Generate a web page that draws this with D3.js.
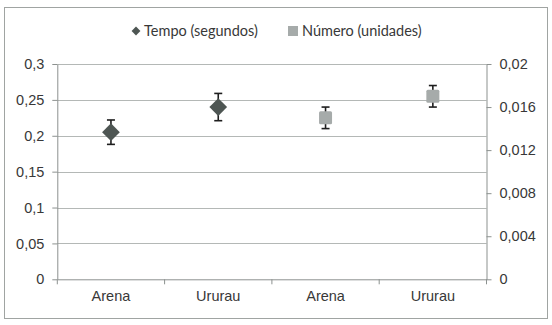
<!DOCTYPE html>
<html>
<head>
<meta charset="utf-8">
<script src="https://cdn.jsdelivr.net/npm/d3@7"></script>
<style>
  body { margin: 0; background: #fff; }
  svg { font-family: Lato, "Open Sans", sans-serif; }
</style>
</head>
<body>
<svg id="drawing_region"></svg>
<script>
const categories = ['Arena', 'Ururau', 'Arena', 'Ururau'];
const leftTicks = [0, 0.05, 0.1, 0.15, 0.2, 0.25, 0.3];
const rightTicks = [0, 0.004, 0.008, 0.012, 0.016, 0.02];

// Tempo (segundos) on the left axis, categories 0 and 1
const tempoIndex = [0, 1];
const tempoValues = [0.205, 0.240];
const tempoErrors = [0.017, 0.019];

// Número (unidades) on the right axis, categories 2 and 3
const numeroIndex = [2, 3];
const numeroValues = [0.0150, 0.0170];
const numeroErrors = [0.0010, 0.0010];

const width = 552, height = 325;
const margin = {top: 64, right: 65.5, bottom: 45.7, left: 57.3};
const innerW = width - margin.left - margin.right;
const innerH = height - margin.top - margin.bottom;
const fontSize = '14.5px';

const svg = d3.select('#drawing_region')
    .attr('width', width)
    .attr('height', height);

svg.append('rect')
    .attr('x', 4.5).attr('y', 7.5)
    .attr('width', 543).attr('height', 311)
    .attr('fill', '#fff')
    .attr('stroke', '#a0a4a2');

const chart = svg.append('g')
    .attr('transform', `translate(${margin.left}, ${margin.top})`);

const xscale = d3.scaleBand()
    .domain(d3.range(categories.length))
    .range([0, innerW]);

const yLeft = d3.scaleLinear().domain([0, 0.3]).range([innerH, 0]);
const yRight = d3.scaleLinear().domain([0, 0.02]).range([innerH, 0]);

const fmt = d => String(d).replace('.', ',');
const axisColor = '#8c918f';
const textColor = '#383838';

// gridlines
chart.append('g')
    .selectAll('line')
    .data(leftTicks.filter(d => d > 0))
    .join('line')
    .attr('x1', 0).attr('x2', innerW)
    .attr('y1', d => Math.round(yLeft(d)) + 0.5)
    .attr('y2', d => Math.round(yLeft(d)) + 0.5)
    .attr('stroke', '#b4b8b6');

const styleAxis = g => {
    g.select('.domain').attr('stroke', axisColor);
    g.selectAll('.tick line').attr('stroke', axisColor);
    g.selectAll('.tick text').attr('fill', textColor).attr('font-size', fontSize);
};

chart.append('g')
    .call(d3.axisLeft(yLeft).tickValues(leftTicks).tickFormat(fmt).tickSize(5).tickSizeOuter(0).tickPadding(8))
    .call(styleAxis);

chart.append('g')
    .attr('transform', `translate(${innerW}, 0)`)
    .call(d3.axisRight(yRight).tickValues(rightTicks).tickFormat(fmt).tickSize(5).tickSizeOuter(0).tickPadding(8))
    .call(styleAxis);

const xaxis = chart.append('g')
    .attr('transform', `translate(0, ${innerH})`)
    .call(d3.axisBottom(xscale).tickFormat(i => categories[i]).tickSize(0).tickPadding(11))
    .call(styleAxis);

// category boundary ticks
xaxis.selectAll('.sep')
    .data(d3.range(categories.length + 1))
    .join('line')
    .attr('class', 'sep')
    .attr('x1', i => i * xscale.bandwidth())
    .attr('x2', i => i * xscale.bandwidth())
    .attr('y1', 0).attr('y2', 5)
    .attr('stroke', axisColor);

const cx = i => xscale(i) + xscale.bandwidth() / 2;

function errorBars(idx, vals, errs, y) {
    const g = chart.append('g').attr('stroke', '#1e1e1e').attr('stroke-width', 1.6);
    idx.forEach((i, k) => {
        const x = cx(i);
        const t = y(vals[k] + errs[k]), b = y(vals[k] - errs[k]);
        g.append('line').attr('x1', x).attr('x2', x).attr('y1', t).attr('y2', b);
        g.append('line').attr('x1', x - 4).attr('x2', x + 4).attr('y1', t).attr('y2', t);
        g.append('line').attr('x1', x - 4).attr('x2', x + 4).attr('y1', b).attr('y2', b);
    });
}

errorBars(tempoIndex, tempoValues, tempoErrors, yLeft);
errorBars(numeroIndex, numeroValues, numeroErrors, yRight);

const diamondColor = '#4e5653';
const squareColor = '#a6abaa';

chart.selectAll('.tempo')
    .data(tempoIndex)
    .join('path')
    .attr('class', 'tempo')
    .attr('d', d3.symbol(d3.symbolDiamond2, 200))
    .attr('transform', (d, k) => `translate(${cx(d)}, ${yLeft(tempoValues[k])})`)
    .attr('fill', diamondColor);

chart.selectAll('.numero')
    .data(numeroIndex)
    .join('rect')
    .attr('class', 'numero')
    .attr('x', d => cx(d) - 6.5)
    .attr('y', (d, k) => yRight(numeroValues[k]) - 6.5)
    .attr('width', 13).attr('height', 13)
    .attr('rx', 1.5)
    .attr('fill', squareColor);

// legend
const legend = svg.append('g').attr('font-size', fontSize).attr('fill', textColor);
legend.append('path')
    .attr('d', d3.symbol(d3.symbolDiamond2, 50))
    .attr('transform', 'translate(136, 31)')
    .attr('fill', diamondColor);
legend.append('text')
    .attr('x', 144).attr('y', 31).attr('dy', '0.35em')
    .text('Tempo (segundos)');
legend.append('rect')
    .attr('x', 288).attr('y', 26)
    .attr('width', 10).attr('height', 10)
    .attr('fill', squareColor);
legend.append('text')
    .attr('x', 302).attr('y', 31).attr('dy', '0.35em')
    .text('Número (unidades)');
</script>
</body>
</html>
